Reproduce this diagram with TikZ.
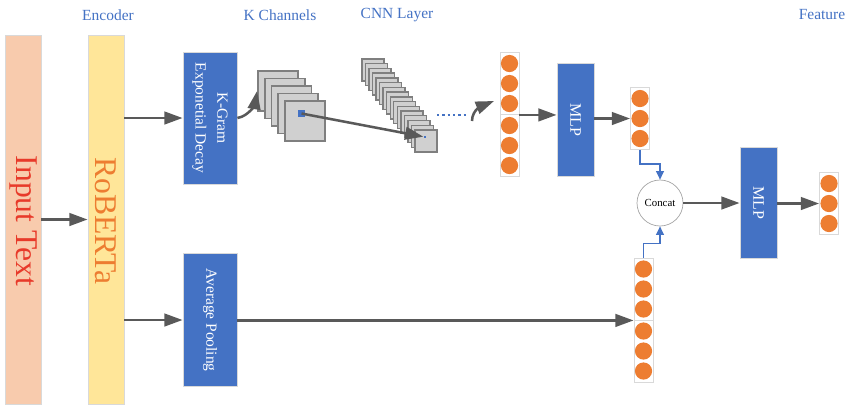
\documentclass[tikz,border=0pt]{standalone}
\usepackage{fontspec}
\setmainfont{Liberation Serif}
\usetikzlibrary{positioning,arrows.meta,calc}
\definecolor{boxblue}{RGB}{68,114,196}
\definecolor{dotorange}{RGB}{237,125,49}
\definecolor{inputpeach}{RGB}{248,203,173}
\definecolor{encyellow}{RGB}{255,230,153}
\definecolor{textred}{RGB}{232,58,42}
\definecolor{arrowgray}{RGB}{89,89,89}
\definecolor{layergray}{RGB}{208,208,208}
\definecolor{edgegray}{RGB}{127,127,127}
\definecolor{framegray}{RGB}{217,217,217}

\begin{document}
\begin{tikzpicture}[x=0.025cm,y=-0.025cm,
  bar/.style={rectangle,draw=framegray,line width=0.6pt,minimum width=0.9cm,minimum height=9.225cm,inner sep=0pt},
  bluebox/.style={rectangle,draw=framegray,line width=0.6pt,fill=boxblue,inner sep=0pt},
  vtext/.style={rotate=-90,align=center,inner sep=0pt},
  chan/.style={rectangle,draw=edgegray,line width=1.3pt,fill=layergray,minimum size=1cm,inner sep=0pt},
  cnn/.style={rectangle,draw=edgegray,line width=1pt,fill=layergray,minimum size=0.55cm,inner sep=0pt},
  vecbox/.style={rectangle,draw=framegray,line width=0.6pt,minimum width=0.475cm,minimum height=1.55cm,inner sep=0pt},
  unit/.style={circle,fill=dotorange,minimum size=0.43cm,inner sep=0pt},
  head/.style={text=boxblue,font=\fontsize{11}{13}\selectfont},
  arr/.style={draw=arrowgray,line width=1.8pt,-{Triangle[length=13pt,width=9pt]}},
  link/.style={draw=boxblue,line width=0.9pt,-{Triangle[length=6pt,width=5.5pt]}}]
\useasboundingbox (0,0) rectangle (848,404);

% column titles
\node[head] (enchead) at (108,15) {Encoder};
\node[head] (chanhead) at (280,15) {K Channels};
\node[head] (cnnhead) at (397,15) {CNN Layer};
\node[head] (feathead) at (822,15) {Feature};

% input and encoder bars
\node[bar,fill=inputpeach] (input) at (23,219.5) {};
\node[vtext,text=textred,font=\fontsize{22.5}{24}\selectfont] (inputlbl) at (23,221) {Input Text};
\node[bar,fill=encyellow] (roberta) at (106,219.5) {};
\node[vtext,text=dotorange,font=\fontsize{22.5}{24}\selectfont] (robertalbl) at (106,221) {RoBERTa};

% two branches
\node[bluebox,minimum width=1.35cm,minimum height=3.3cm] (kgram) at (210,118) {};
\node[vtext,text=white,font=\fontsize{11}{15.5}\selectfont] (kgramlbl) at (kgram) {K-Gram\\Exponetial Decay};
\node[bluebox,minimum width=1.35cm,minimum height=3.325cm] (avgpool) at (210,320) {};
\node[vtext,text=white,font=\fontsize{11}{13}\selectfont] (avgpoollbl) at (avgpool) {Average Pooling};

% k channels
\foreach \i in {0,...,4}
  \node[chan] (ch\i) at ({278+6.75*\i},{91+7.5*\i}) {};
\node[rectangle,fill=boxblue,minimum size=0.18cm,inner sep=0pt] (kernel) at (301.5,113.5) {};

% cnn layer
\foreach \i in {0,...,15}
  \node[cnn] (cnn\i) at ({373+3.53*\i},{70+4.73*\i}) {};
\node[rectangle,fill=boxblue,minimum size=0.07cm,inner sep=0pt] (pixel) at (425,137) {};

% feature vectors
\foreach \n/\x/\y in {va/509.5/83.5, vb/509.5/145.5, vc/640/118.5, vd/829/203.5, ve/643.5/289, vf/643.5/351} {
  \node[vecbox] (\n) at (\x,\y) {};
  \foreach \k in {1,2,3}
    \node[unit] (\n-\k) at (\x,{\y+20*(\k-2)}) {};
}

% mlps and concat
\node[bluebox,minimum width=0.925cm,minimum height=2.825cm] (mlp1) at (575.5,119.5) {};
\node[vtext,text=white,font=\fontsize{11.4}{13}\selectfont] (mlp1lbl) at (mlp1) {MLP};
\node[bluebox,minimum width=0.925cm,minimum height=2.775cm] (mlp2) at (758.5,202.5) {};
\node[vtext,text=white,font=\fontsize{11.4}{13}\selectfont] (mlp2lbl) at (mlp2) {MLP};
\node[circle,draw=edgegray!70,line width=0.5pt,minimum size=1.15cm,inner sep=0pt,
  font=\fontsize{7.7}{9}\selectfont] (concat) at (660,203) {Concat};

\coordinate (dotstart) at (437,115);
\coordinate (dotend) at (467,115);
\coordinate (cnnout) at (472,121);
\coordinate (cnnin) at (494,101);

% connectors
\draw[arr] (input) -- (roberta);
\draw[arr] (roberta.east |- kgram) -- (kgram.west);
\draw[arr] (roberta.east |- avgpool) -- (avgpool.west);
\draw[arr] (kgram.east) .. controls +(12,-2) and +(-2,12) .. (ch0.west);
\draw[arr] (kernel.center) -- (pixel);
\draw[boxblue,line width=1.2pt,dash pattern=on 1.6pt off 2.2pt] (dotstart) -- (dotend);
\draw[arr] (cnnout) .. controls +(0,-12) and +(-10,4) .. (cnnin);
\draw[arr] (va.south east) -- (mlp1.west |- va.south east);
\draw[arr] (mlp1.east |- vc) -- (vc.west);
\draw[arr] (avgpool.east |- ve.south west) -- (ve.south west);
\draw[link] (vc.south) -- ++(0,14) -| (concat.north);
\draw[link] (ve.north) -- ++(0,-14) -| (concat.south);
\draw[arr] (concat.east) -- (mlp2.west |- concat.east);
\draw[arr] (mlp2.east |- vd) -- (vd.west);
\end{tikzpicture}
\end{document}
